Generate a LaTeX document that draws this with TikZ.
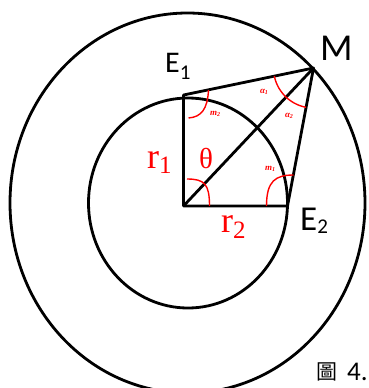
\documentclass[tikz,border=0pt]{standalone}
\usepackage{fontspec}
\newfontfamily\carl{Carlito}
\newfontfamily\lserif{Liberation Serif}
\newfontfamily\cjk{Noto Sans CJK TC}
\usetikzlibrary{calc}
\begin{document}
\begin{tikzpicture}[x=1pt,y=-1pt,
  geo/.style={line width=2.8pt, black, line join=round},
  ang/.style={line width=1.4pt, red},
  blab/.style={inner sep=0pt, anchor=base west},
  rlab/.style={text=red, inner sep=0pt, anchor=base west},
  tinylab/.style={text=red, inner sep=0pt, font=\lserif\itshape\bfseries\fontsize{9}{9}\selectfont}]
\useasboundingbox (0,0) rectangle (369,388);
\clip (0,0) rectangle (369,388);
% key points (pixel coordinates, y downwards)
\coordinate (O) at (183.5,206);
\coordinate (E1) at (183.5,95);
\coordinate (E2) at (287.5,206);
\coordinate (M) at (313.5,68);
\coordinate (Cin) at (188,203);
\coordinate (Cout) at (187.5,203);
% circles
\draw[geo] (Cout) ellipse [x radius=177.5, y radius=190];
\draw[geo] (Cin) ellipse [x radius=99.5, y radius=105];
% quadrilateral and diagonal
\draw[geo] (O) -- (E1) -- (M) -- (E2) -- cycle;
\draw[geo] (O) -- (M);
% angle marks
\draw[ang] ($(O)+(3.5,-27)$) .. controls ($(O)+(21,-27)$) and ($(O)+(26,-22)$) .. ($(O)+(26,0)$);
\draw[ang] ($(E2)+(-21,0)$) .. controls ($(E2)+(-21,-25)$) and ($(E2)+(-12,-31)$) .. ($(E2)+(6,-31)$);
\draw[ang] ($(E1)+(25,-5)$) .. controls ($(E1)+(24,14)$) and ($(E1)+(18,22)$) .. ($(E1)+(5,23)$);
\draw[ang] plot[domain=100.7:168.3, samples=40] ({313.5+40*cos(\x)},{68+40*sin(\x)});
% small angle labels
\node[tinylab] (a1) at (264,92) {α\raisebox{-1.5pt}{\fontsize{6}{6}\selectfont 1}};
\node[tinylab] (a2) at (289,116) {α\raisebox{-1.5pt}{\fontsize{6}{6}\selectfont 2}};
\node[tinylab] (m2) at (215,114) {m\raisebox{-1.5pt}{\fontsize{6}{6}\selectfont 2}};
\node[tinylab] (m1) at (270,169) {m\raisebox{-1.5pt}{\fontsize{6}{6}\selectfont 1}};
% point labels
\node[blab, font=\carl\fontsize{38}{38}\selectfont] (Mlab) at (320,60) {M};
\node[blab, font=\carl\fontsize{30}{30}\selectfont] (E1lab) at (165,72) {E\raisebox{-7pt}{\fontsize{21}{21}\selectfont 1}};
\node[blab, font=\carl\fontsize{35}{35}\selectfont] (E2lab) at (300,230) {E\raisebox{-3pt}{\fontsize{21}{21}\selectfont 2}};
% red labels
\node[rlab, font=\lserif\fontsize{36}{36}\selectfont] (r1) at (147,168) {r\raisebox{-5pt}{\fontsize{25}{25}\selectfont 1}};
\node[rlab, font=\lserif\fontsize{36}{36}\selectfont] (r2) at (221,232) {r\raisebox{-6pt}{\fontsize{25}{25}\selectfont 2}};
\node[rlab, font=\lserif\fontsize{29}{29}\selectfont] (th) at (199,168) {θ};
% caption fragment
\node[blab, font=\cjk\fontsize{21}{21}\selectfont] (fig) at (316,379) {圖};
\node[blab, font=\carl\fontsize{27}{27}\selectfont] (num) at (347,380) {4.};
\end{tikzpicture}
\end{document}
